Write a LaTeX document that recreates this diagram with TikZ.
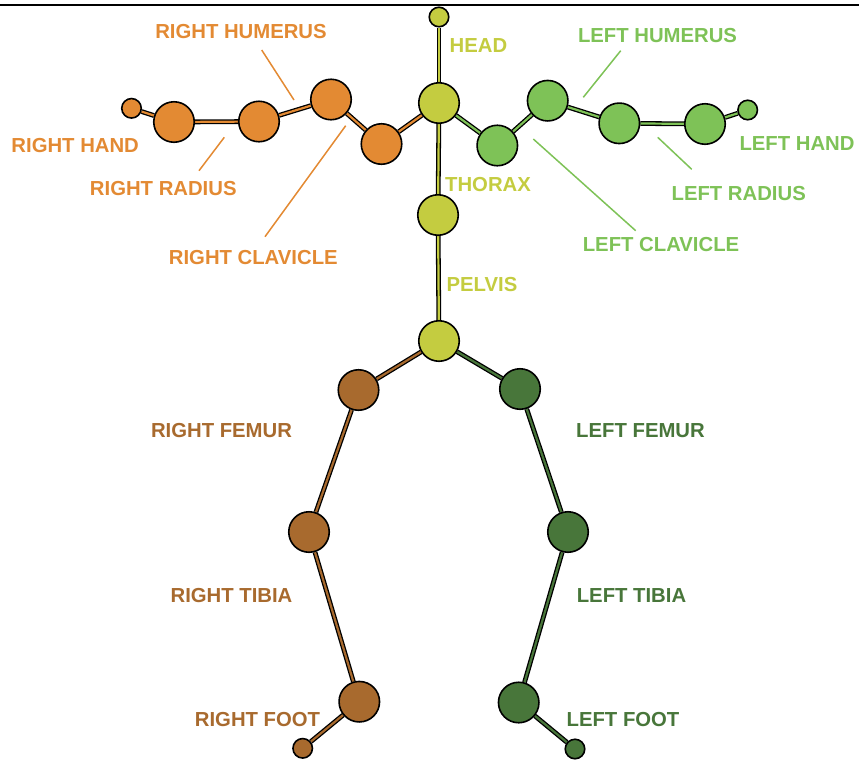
\documentclass[tikz,border=0pt]{standalone}
\usepackage{fontspec}
\setmainfont{Liberation Sans}
\usetikzlibrary{backgrounds}
\definecolor{corange}{RGB}{227,138,51}
\definecolor{cyellow}{RGB}{196,204,64}
\definecolor{cgreen}{RGB}{126,194,87}
\definecolor{cbrown}{RGB}{168,106,46}
\definecolor{cdark}{RGB}{72,118,58}
\tikzset{
  joint/.style={circle, draw=black, line width=1.6pt, fill=#1, minimum size=40.5pt, inner sep=0pt},
  tip/.style={circle, draw=black, line width=1.6pt, fill=#1, minimum size=19.5pt, inner sep=0pt},
  bone/.style={draw=black, line width=1.3pt, double=#1, double distance=2.2pt},
  lbl/.style={text=#1, font=\fontsize{20.3}{22}\selectfont\bfseries, inner sep=0pt, anchor=center},
  leader/.style={draw=#1, line width=1.5pt}
}
\begin{document}
\begin{tikzpicture}[x=1pt,y=-1pt]
\useasboundingbox (0,0) rectangle (859,761);
\coordinate (tl) at (0,5);
\coordinate (tr) at (859,5);
\draw[line width=2pt] (tl) -- (tr);
% spine
\node[tip=cyellow] (headtip) at (439,17) {};
\node[joint=cyellow] (neck) at (439,103) {};
\node[joint=cyellow] (thorax) at (438,215) {};
\node[joint=cyellow] (pelvis) at (439,341) {};
% right arm
\node[joint=corange] (rclav) at (381.5,144) {};
\node[joint=corange] (rhum) at (331,99.5) {};
\node[joint=corange] (rrad) at (259,121.5) {};
\node[joint=corange] (rhand) at (174,122) {};
\node[tip=corange] (rhandtip) at (131.5,108.3) {};
% left arm
\node[joint=cgreen] (lclav) at (497.3,145.5) {};
\node[joint=cgreen] (lhum) at (547.7,100.7) {};
\node[joint=cgreen] (lrad) at (619.3,123.3) {};
\node[joint=cgreen] (lhand) at (705,124) {};
\node[tip=cgreen] (lhandtip) at (747.7,110) {};
% right leg
\node[joint=cbrown] (rfem) at (358.5,390) {};
\node[joint=cbrown] (rtib) at (309,532) {};
\node[joint=cbrown] (rfoot) at (359.3,701.7) {};
\node[tip=cbrown] (rfoottip) at (302.7,748.3) {};
% left leg
\node[joint=cdark] (lfem) at (520,389) {};
\node[joint=cdark] (ltib) at (568,532) {};
\node[joint=cdark] (lfoot) at (518.7,702.5) {};
\node[tip=cdark] (lfoottip) at (575,749) {};
% bones
\begin{scope}[on background layer]
\draw[bone=cyellow] (headtip) -- (neck);
\draw[bone=cyellow] (neck) -- (thorax);
\draw[bone=cyellow] (thorax) -- (pelvis);
\draw[bone=corange] (neck) -- (rclav);
\draw[bone=corange] (rclav) -- (rhum);
\draw[bone=corange] (rhum) -- (rrad);
\draw[bone=corange] (rrad) -- (rhand);
\draw[bone=corange] (rhand) -- (rhandtip);
\draw[bone=cgreen] (neck) -- (lclav);
\draw[bone=cgreen] (lclav) -- (lhum);
\draw[bone=cgreen] (lhum) -- (lrad);
\draw[bone=cgreen] (lrad) -- (lhand);
\draw[bone=cgreen] (lhand) -- (lhandtip);
\draw[bone=cbrown] (pelvis) -- (rfem);
\draw[bone=cbrown] (rfem) -- (rtib);
\draw[bone=cbrown] (rtib) -- (rfoot);
\draw[bone=cbrown] (rfoot) -- (rfoottip);
\draw[bone=cdark] (pelvis) -- (lfem);
\draw[bone=cdark] (lfem) -- (ltib);
\draw[bone=cdark] (ltib) -- (lfoot);
\draw[bone=cdark] (lfoot) -- (lfoottip);
\end{scope}
% leader lines
\coordinate (rhumA) at (261.7,50);  \coordinate (rhumB) at (294,100);
\coordinate (rradA) at (224.3,137.3); \coordinate (rradB) at (199,170.7);
\coordinate (rclavA) at (345.7,125.7); \coordinate (rclavB) at (265,236.7);
\coordinate (lhumA) at (620.7,50.7); \coordinate (lhumB) at (583.3,97.3);
\coordinate (lclavA) at (533.3,139); \coordinate (lclavB) at (635.7,230.7);
\coordinate (lradA) at (657.7,137.3); \coordinate (lradB) at (691.7,169.3);
\draw[leader=corange] (rhumA) -- (rhumB);
\draw[leader=corange] (rradA) -- (rradB);
\draw[leader=corange] (rclavA) -- (rclavB);
\draw[leader=cgreen] (lhumA) -- (lhumB);
\draw[leader=cgreen] (lclavA) -- (lclavB);
\draw[leader=cgreen] (lradA) -- (lradB);
% labels
\node[lbl=corange] (tRhum) at (241,31.5) {RIGHT HUMERUS};
\node[lbl=corange] (tRhand) at (75.2,145.3) {RIGHT HAND};
\node[lbl=corange] (tRrad) at (163.3,189) {RIGHT RADIUS};
\node[lbl=corange] (tRclav) at (253.3,257.2) {RIGHT CLAVICLE};
\node[lbl=cyellow] (tHead) at (478.5,45.5) {HEAD};
\node[lbl=cyellow] (tThorax) at (488,184.5) {THORAX};
\node[lbl=cyellow] (tPelvis) at (482,285) {PELVIS};
\node[lbl=cgreen] (tLhum) at (657.5,35.5) {LEFT HUMERUS};
\node[lbl=cgreen] (tLhand) at (797,143.7) {LEFT HAND};
\node[lbl=cgreen] (tLrad) at (738.7,193.3) {LEFT RADIUS};
\node[lbl=cgreen] (tLclav) at (661,245) {LEFT CLAVICLE};
\node[lbl=cbrown] (tRfem) at (221.5,431) {RIGHT FEMUR};
\node[lbl=cbrown] (tRtib) at (231.5,596) {RIGHT TIBIA};
\node[lbl=cbrown] (tRfoot) at (257.5,719) {RIGHT FOOT};
\node[lbl=cdark] (tLfem) at (640.5,431) {LEFT FEMUR};
\node[lbl=cdark] (tLtib) at (631.5,596) {LEFT TIBIA};
\node[lbl=cdark] (tLfoot) at (623,719) {LEFT FOOT};
\end{tikzpicture}
\end{document}
